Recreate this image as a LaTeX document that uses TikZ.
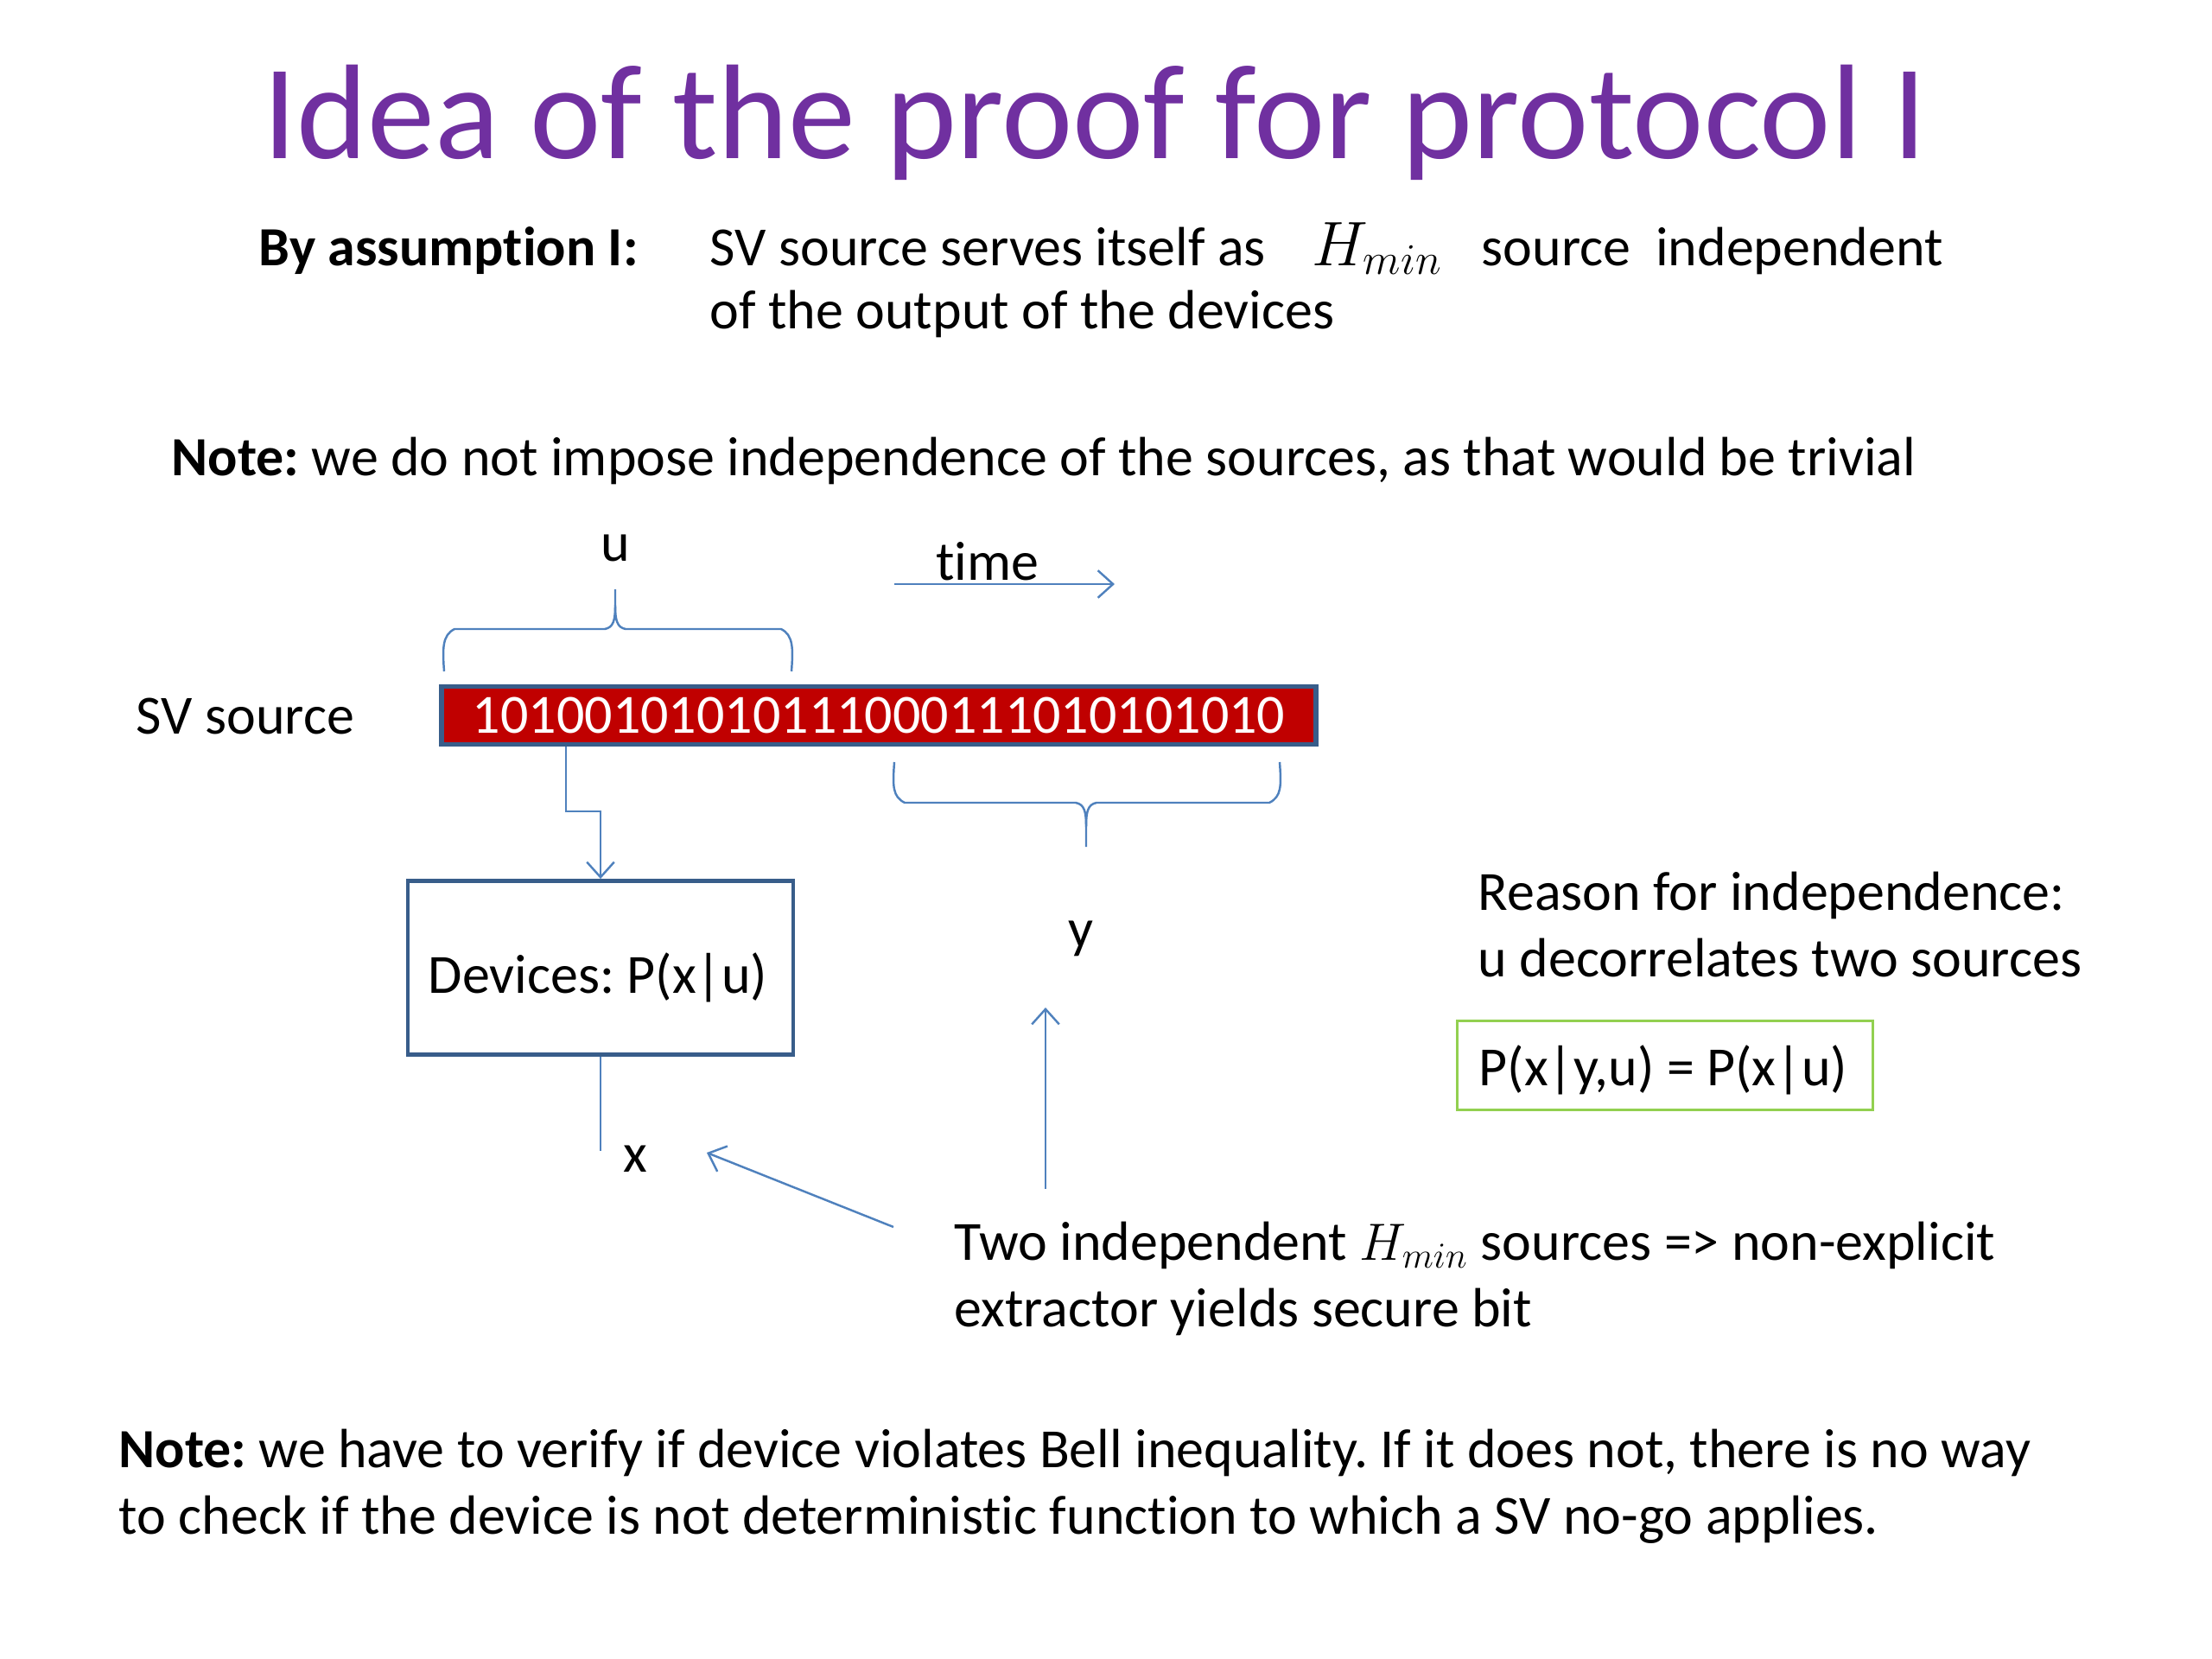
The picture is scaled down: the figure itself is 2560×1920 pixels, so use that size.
\documentclass[tikz,border=0pt]{standalone}
\usepackage{fontspec}
\setmainfont[Ligatures=NoCommon]{Carlito}
\usetikzlibrary{positioning,arrows.meta}
\definecolor{titlepurple}{RGB}{112,48,160}
\definecolor{linkblue}{RGB}{79,129,189}
\definecolor{boxblue}{RGB}{56,93,138}
\definecolor{bitred}{RGB}{192,0,0}
\definecolor{eqgreen}{RGB}{146,208,80}
\frenchspacing
\begin{document}
\begin{tikzpicture}[x=0.1mm,y=-0.1mm,
  txt/.style={inner sep=0pt,anchor=base west,font=\fontsize{18.2}{22}\selectfont},
  lbl/.style={inner sep=0pt,font=\fontsize{18.2}{22}\selectfont},
  link/.style={draw=linkblue,line width=0.7pt},
  >={Straight Barb[length=5pt,width=9pt]}]
  \useasboundingbox (0,0) rectangle (2560,1920);
  % title and top lines
  \node[anchor=base,inner sep=0pt,text=titlepurple,font=\fontsize{44.4}{50}\selectfont] (title) at (1267,183) {Idea of the proof for protocol I};
  \node[txt,font=\fontsize{18.2}{22}\selectfont\bfseries] (assume) at (299,307) {By assumption I:};
  \node[txt] (serves) at (821,307) {SV source serves itself as};
  \node[txt,font=\fontsize{19.5}{22}\selectfont] (hmin) at (1518,307) {$H_{min}$};
  \node[txt] (indep) at (1714,307) {source\ \ independent};
  \node[txt] (serves2) at (821,380) {of the output of the devices};
  \node[txt] (note1) at (198,550) {\textbf{Note:} we do not impose independence of the sources, as that would be trivial};
  % the source string
  \node[txt] (svlabel) at (157,849) {SV source};
  \node[draw=boxblue,line width=1.6pt,fill=bitred,text=white,inner sep=0pt,
        minimum width=10.12cm,minimum height=0.67cm,font=\fontsize{18.2}{22}\selectfont] (bits) at (1017,828) {10100101010111000111010101010};
  \node[lbl] (u) at (712,634) {u};
  \node[lbl] (time) at (1143,650) {time};
  \coordinate (tstart) at (1035,676);
  \coordinate (tend) at (1290,676);
  \draw[link,->] (tstart) -- (tend);
  % braces
  \draw[link] (514,777) .. controls (512,750) and (512,735) .. (526,728) -- (700,728)
    .. controls (710,726) and (712,718) .. (712,700) -- (712,682);
  \draw[link] (712,700) .. controls (712,718) and (714,726) .. (724,728) -- (904,728)
    .. controls (918,735) and (918,750) .. (916,777);
  \draw[link] (1035,882) .. controls (1033,910) and (1033,922) .. (1047,929) -- (1245,929)
    .. controls (1255,931) and (1257,939) .. (1257,957) -- (1257,980);
  \draw[link] (1257,957) .. controls (1257,939) and (1259,931) .. (1269,929) -- (1469,929)
    .. controls (1483,922) and (1483,910) .. (1481,882);
  % devices
  \node[draw=boxblue,line width=1.4pt,inner sep=0pt,minimum width=4.46cm,minimum height=2.01cm] (devices) at (695,1120) {};
  \node[lbl] (devtext) at (692,1131) {Devices: P(x|u)};
  \coordinate (split) at (655,939);
  \draw[link,->] (bits.south -| split) -- (split) -| (devices.north);
  \coordinate (xend) at (695,1332);
  \draw[link] (devices.south) -- (xend);
  \node[lbl] (x) at (735,1341) {x};
  \node[lbl] (y) at (1251,1086) {y};
  \coordinate (ybase) at (1210,1376);
  \coordinate (ytip) at (1210,1166);
  \draw[link,->] (ybase) -- (ytip);
  \coordinate (xfrom) at (1034,1420);
  \coordinate (xtip) at (818,1334);
  \draw[link,->] (xfrom) -- (xtip);
  % right side
  \node[txt] (reason1) at (1710,1053) {Reason for independence:};
  \node[txt] (reason2) at (1710,1130) {u decorrelates two sources};
  \node[draw=eqgreen,line width=0.7pt,inner sep=0pt,minimum width=4.81cm,minimum height=1.03cm] (eq) at (1927,1233) {};
  \node[lbl] (eqtext) at (1925,1238) {P(x|y,u) = P(x|u)};
  \node[txt] (two1) at (1104,1458) {Two independent $H_{min}$ sources => non-explicit};
  \node[txt] (two2) at (1104,1535) {extractor yields secure bit};
  % bottom note
  \node[txt] (note2) at (137,1698) {\textbf{Note:} we have to verify if device violates Bell inequality. If it does not, there is no way};
  \node[txt] (note3) at (137,1775) {to check if the device is not deterministic function to which a SV no-go applies.};
\end{tikzpicture}
\end{document}
